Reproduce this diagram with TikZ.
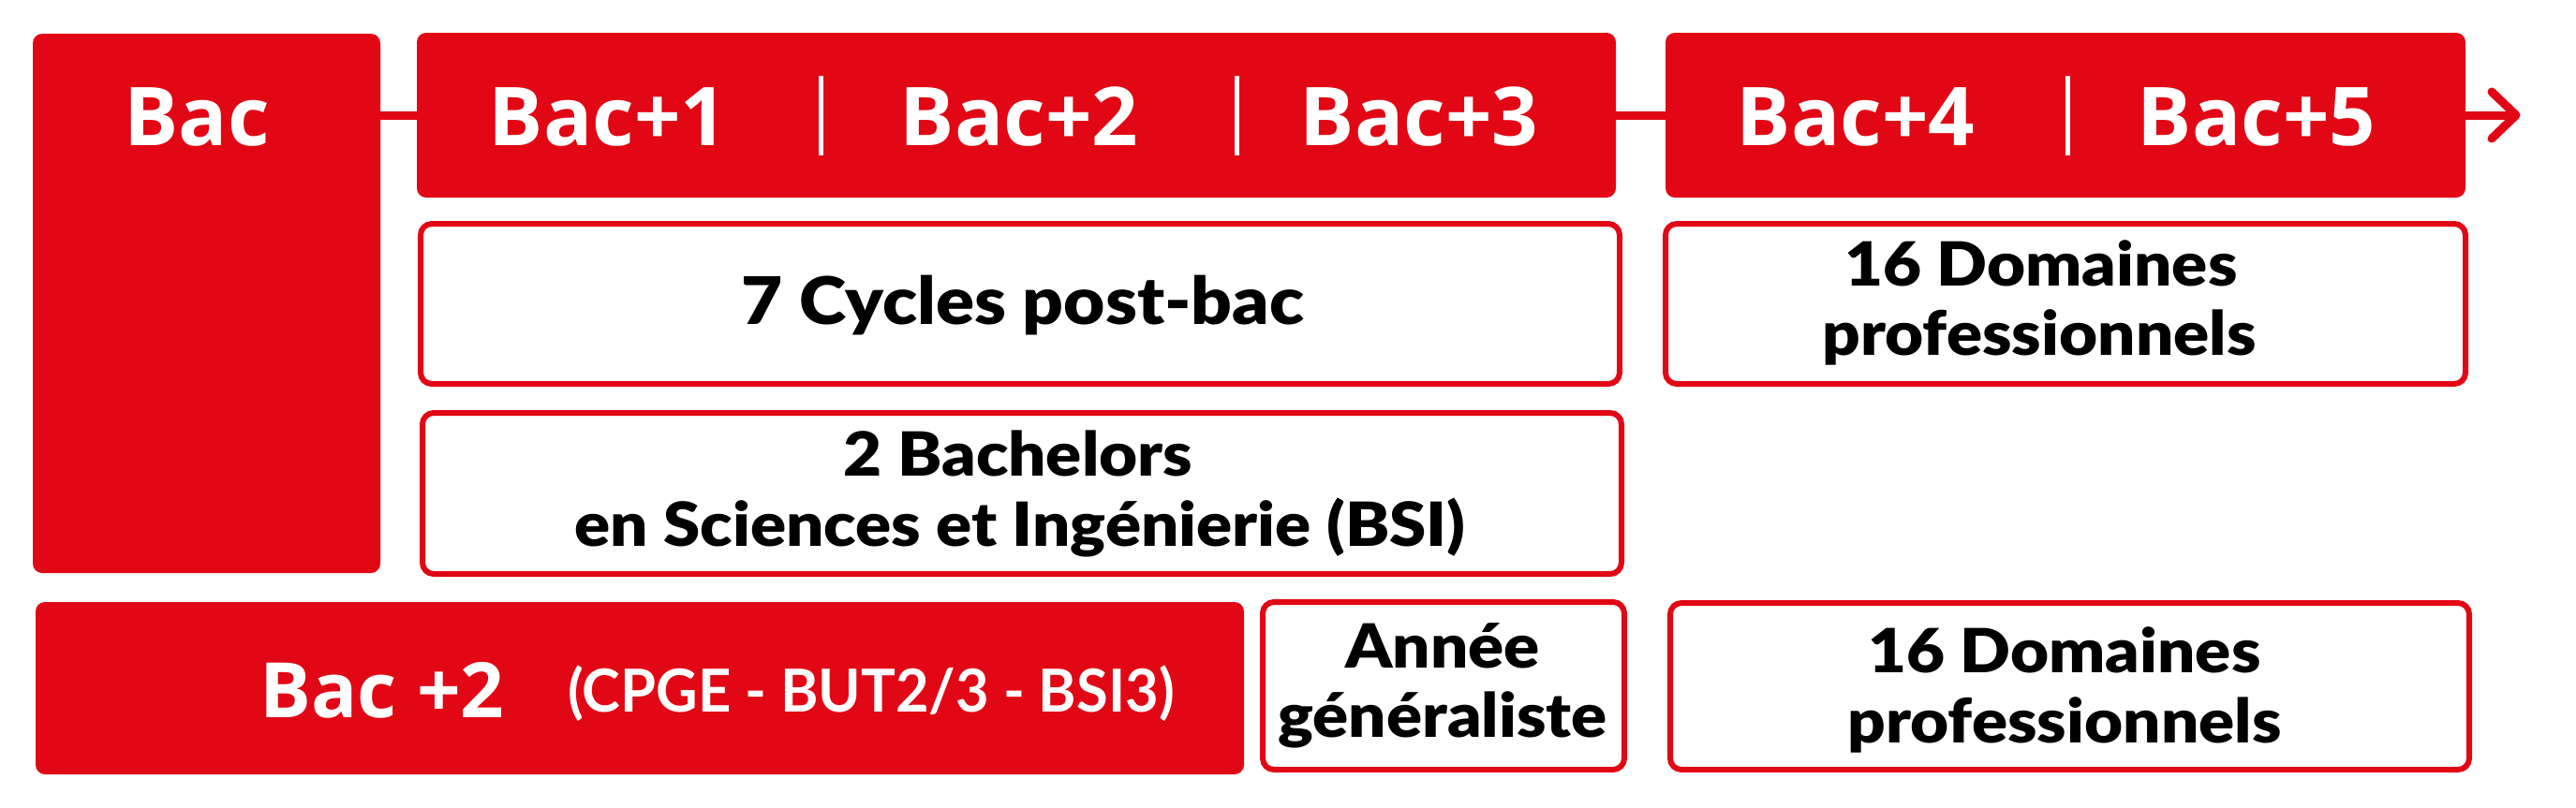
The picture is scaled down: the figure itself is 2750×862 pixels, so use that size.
\documentclass[tikz,border=0pt]{standalone}
\usepackage{fontspec}
\newfontfamily\wfont{Open Sans}[BoldFont={* Bold}]
\newfontfamily\kfont{Lato}[BoldFont={Lato Black},FakeStretch=1.09]
\newfontfamily\nfont{Lato}[BoldFont={* Bold},FakeStretch=0.97]
\definecolor{ured}{HTML}{E20714}
\begin{document}
\begin{tikzpicture}[x=0.3pt,y=-0.3pt,
  fillbox/.style={rectangle,fill=ured,rounded corners=3pt,inner sep=0pt,outer sep=0pt},
  linebox/.style={rectangle,draw=ured,line width=1.8pt,fill=white,rounded corners=3.6pt,inner sep=0pt,outer sep=0pt},
  wlab/.style={anchor=base,text=white,inner sep=0pt,font=\wfont\bfseries\fontsize{26pt}{30pt}\selectfont},
  wlab2/.style={anchor=base,text=white,inner sep=0pt,font=\wfont\bfseries\fontsize{24.5pt}{30pt}\selectfont},
  wsmall/.style={anchor=base,text=white,inner sep=0pt,font=\nfont\bfseries\fontsize{19pt}{22pt}\selectfont},
  klab/.style={anchor=base,text=black,inner sep=0pt,font=\kfont\bfseries\fontsize{19.5pt}{22pt}\selectfont},
  klabbig/.style={anchor=base,text=black,inner sep=0pt,font=\kfont\bfseries\fontsize{21pt}{22pt}\selectfont},
  conn/.style={draw=ured,line width=2.7pt},
  divider/.style={draw=white,line width=1.5pt}]
\useasboundingbox[fill=white] (0,0) rectangle (2750,862);
% boxes
\node[fillbox,minimum width=111.3pt,minimum height=172.8pt] (bac) at (220.5,324) {};
\node[fillbox,minimum width=384pt,minimum height=52.8pt] (y13) at (1085,123) {};
\node[fillbox,minimum width=256.2pt,minimum height=52.8pt] (y45) at (2205,123) {};
\node[linebox,minimum width=384pt,minimum height=51.3pt] (cyc) at (1089,324.5) {};
\node[linebox,minimum width=384pt,minimum height=51.6pt] (bach) at (1091,527) {};
\node[linebox,minimum width=256.2pt,minimum height=51.3pt] (dom1) at (2205,324.5) {};
\node[fillbox,minimum width=387pt,minimum height=55.2pt] (bac2) at (683,735) {};
\node[linebox,minimum width=115.8pt,minimum height=53.7pt] (annee) at (1541,732.5) {};
\node[linebox,minimum width=255.9pt,minimum height=53.4pt] (dom2) at (2209.5,733) {};
% connectors
\draw[conn] (y13.west) -- (y13.west -| bac.east);
\draw[conn] (y13.east) -- (y45.west);
\coordinate (tip) at (2686,123);
\draw[conn] (y45.east) -- (tip);
\draw[conn,line cap=round,line join=round] (tip) ++(-26,-25) -- (tip) -- ++(-26,25);
% dividers
\draw[divider] (876,81) -- (876,166);
\draw[divider] (1320,81) -- (1320,166);
\draw[divider] (2207,81) -- (2207,166);
% white labels
\node[wlab] (tbac) at (210,155) {Bac};
\node[wlab] (t1) at (649,155) {Bac+1};
\node[wlab] (t2) at (1088,155) {Bac+2};
\node[wlab] (t3) at (1515,155) {Bac+3};
\node[wlab] (t4) at (1981,155) {Bac+4};
\node[wlab] (t5) at (2409,155) {Bac+5};
\node[wlab2] (tbac2) at (408,766) {Bac +2};
\node[wsmall] (tcpge) at (930,760) {(CPGE - BUT2/3 - BSI3)};
% black labels
\node[klabbig] (tcyc) at (1092,346) {7 Cycles post-bac};
\node[klab] (tbach1) at (1087,508) {2 Bachelors};
\node[klab] (tbach2) at (1089,583) {en Sciences et Ingénierie (BSI)};
\node[klab] (tdom1a) at (2179,305) {16 Domaines};
\node[klab] (tdom1b) at (2177,379) {professionnels};
\node[klab] (tan1) at (1540,713) {Année};
\node[klab] (tan2) at (1540,787) {généraliste};
\node[klab] (tdom2a) at (2204,718) {16 Domaines};
\node[klab] (tdom2b) at (2204,793) {professionnels};
\end{tikzpicture}
\end{document}
